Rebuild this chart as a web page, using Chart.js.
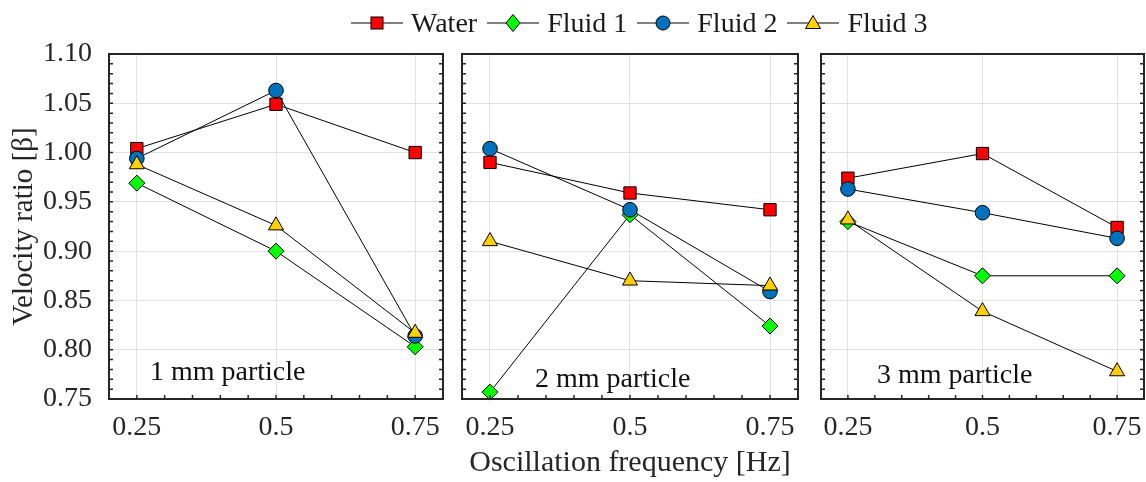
<!DOCTYPE html>
<html>
<head>
<meta charset="utf-8">
<title>Velocity ratio</title>
<script src="https://cdn.jsdelivr.net/npm/chart.js@4.4.1/dist/chart.umd.min.js"></script>
<style>
  body { margin: 0; background: #fff; }
  #wrap { position: relative; width: 1146px; height: 482px; font-family: 'Liberation Serif', 'Times New Roman', serif; }
  #wrap canvas { position: absolute; top: 0; }
  #legend { position: absolute; left: 351px; top: 0; height: 46px; display: flex; align-items: center;
            font-size: 28px; line-height: 28px; color: #1a1a1a; white-space: nowrap; }
  .item { display: flex; align-items: center; margin-right: 10px; }
  .item svg { margin-right: 8px; }
</style>
</head>
<body>
<div id="wrap">
  <canvas id="c1" width="450" height="482" style="left:0px"></canvas>
  <canvas id="c2" width="360" height="482" style="left:450px"></canvas>
  <canvas id="c3" width="336" height="482" style="left:810px"></canvas>
  <div id="legend"></div>
</div>
<script>
'use strict';
// x positions and tick labels (shared by all panels)
const xValues = [0.25, 0.5, 0.75];
const xTickLabels = ['0.25', '0.5', '0.75'];
const yTickValues = [0.75, 0.80, 0.85, 0.90, 0.95, 1.00, 1.05, 1.10];
const yTickLabels = ['0.75', '0.80', '0.85', '0.90', '0.95', '1.00', '1.05', '1.10'];
const seriesNames = ['Water', 'Fluid 1', 'Fluid 2', 'Fluid 3'];
const panelTitles = ['1 mm particle', '2 mm particle', '3 mm particle'];

// 1 mm particle
const water1 = [1.004, 1.049, 1.000];
const fluidOne1 = [0.969, 0.900, 0.803];
const fluidTwo1 = [0.994, 1.063, 0.814];
const fluidThree1 = [0.988, 0.926, 0.817];
// 2 mm particle
const water2 = [0.990, 0.959, 0.942];
const fluidOne2 = [0.757, 0.937, 0.824];
const fluidTwo2 = [1.004, 0.942, 0.859];
const fluidThree2 = [0.910, 0.870, 0.865];
// 3 mm particle
const water3 = [0.974, 0.999, 0.924];
const fluidOne3 = [0.930, 0.875, 0.875];
const fluidTwo3 = [0.963, 0.939, 0.913];
const fluidThree3 = [0.932, 0.839, 0.778];

const FONT = "'Liberation Serif', 'Times New Roman', serif";
const AXIS_COLOR = '#262626';
const GRID_COLOR = '#e2e2e2';

// marker look per series
const markers = [
    {style: 'rect', radius: 8.7, fill: '#ff0000'},
    {style: 'rectRot', radius: 8, fill: '#00ff00'},
    {style: 'circle', radius: 7.3, fill: '#0072bd'},
    {style: 'triangle', radius: 8.7, fill: '#ffd000'}
];

// Box, inward minor ticks and the panel caption
const framePlugin = {
    id: 'frame',
    afterDraw(chart, args, opts) {
        const ctx = chart.ctx;
        const a = chart.chartArea;
        const xs = chart.scales.x, ys = chart.scales.y;
        ctx.save();
        ctx.strokeStyle = AXIS_COLOR;
        ctx.lineWidth = 1.5;
        // y minor ticks every 0.01
        for (let i = 75; i <= 110; i++) {
            const py = ys.getPixelForValue(i / 100);
            ctx.beginPath();
            ctx.moveTo(a.left, py); ctx.lineTo(a.left + 4, py);
            ctx.moveTo(a.right, py); ctx.lineTo(a.right - 4, py);
            ctx.stroke();
        }
        // x minor ticks every 0.05
        for (let i = 4; i <= 16; i++) {
            const px = xs.getPixelForValue(i * 0.05);
            ctx.beginPath();
            ctx.moveTo(px, a.bottom); ctx.lineTo(px, a.bottom - 4);
            ctx.stroke();
        }
        ctx.lineWidth = 2;
        ctx.strokeRect(a.left, a.top, a.right - a.left, a.bottom - a.top);

        // caption
        ctx.fillStyle = '#111';
        ctx.font = '28px ' + FONT;
        ctx.textBaseline = 'alphabetic';
        ctx.textAlign = 'left';
        ctx.fillText(opts.text, a.left + opts.dx, a.bottom - opts.dy);
        ctx.restore();
    }
};

function makePanel(canvasId, seriesValues, cfg) {
    const datasets = seriesValues.map((vals, i) => ({
        label: seriesNames[i],
        data: xValues.map((x, j) => ({x: x, y: vals[j]})),
        borderColor: '#000',
        borderWidth: 1,
        pointStyle: markers[i].style,
        pointRadius: markers[i].radius,
        pointBackgroundColor: markers[i].fill,
        pointBorderColor: '#000',
        pointBorderWidth: 1,
        order: 4 - i, // later series drawn on top
        clip: false
    }));

    return new Chart(document.getElementById(canvasId), {
        type: 'line',
        data: {datasets: datasets},
        options: {
            responsive: false,
            animation: false,
            devicePixelRatio: 1,
            layout: {autoPadding: false, padding: {left: 0, top: 54, right: cfg.padRight, bottom: 0}},
            plugins: {
                legend: {display: false},
                tooltip: {enabled: false},
                frame: {text: cfg.caption, dx: cfg.capDx, dy: cfg.capDy}
            },
            scales: {
                x: {
                    type: 'linear',
                    min: 0.2,
                    max: 0.8,
                    afterBuildTicks: s => { s.ticks = xValues.map(v => ({value: v})); },
                    afterFit: s => {
                        s.height = 83;
                        s.paddingLeft = 0;
                        s.paddingRight = 0;
                    },
                    // invisible outward tick marks give the label gap
                    grid: {color: GRID_COLOR, drawTicks: true, tickLength: 12, tickColor: 'rgba(0,0,0,0)'},
                    border: {display: false},
                    ticks: {
                        padding: 0,
                        color: AXIS_COLOR,
                        font: {family: FONT, size: 28},
                        maxRotation: 0,
                        callback: (v, i) => xTickLabels[i]
                    },
                    title: {
                        display: cfg.xTitle,
                        text: 'Oscillation frequency [Hz]',
                        color: AXIS_COLOR,
                        font: {family: FONT, size: 30},
                        padding: {top: 0, bottom: 1}
                    }
                },
                y: {
                    type: 'linear',
                    min: 0.75,
                    max: 1.10,
                    afterBuildTicks: s => { s.ticks = yTickValues.map(v => ({value: v})); },
                    afterFit: s => { s.width = cfg.yWidth; },
                    grid: {color: GRID_COLOR, drawTicks: false},
                    border: {display: false},
                    ticks: {
                        display: cfg.yLabels,
                        padding: 17,
                        color: AXIS_COLOR,
                        font: {family: FONT, size: 28},
                        callback: (v, i) => yTickLabels[i]
                    },
                    title: {
                        display: cfg.yLabels,
                        text: 'Velocity ratio [β]',
                        color: AXIS_COLOR,
                        font: {family: FONT, size: 29},
                        padding: {top: 7, bottom: 0}
                    }
                }
            }
        },
        plugins: [framePlugin]
    });
}

function buildLegend() {
    const shapes = [
        '<rect x="20" y="4" width="12" height="12" fill="#ff0000" stroke="#000" stroke-width="1"/>',
        '<polygon points="26,1.5 33,10 26,18.5 19,10" fill="#00ff00" stroke="#000" stroke-width="1"/>',
        '<circle cx="26" cy="10" r="7" fill="#0072bd" stroke="#000" stroke-width="1"/>',
        '<polygon points="26,2.5 33.5,15.5 18.5,15.5" fill="#ffd000" stroke="#000" stroke-width="1"/>'
    ];
    const legend = document.getElementById('legend');
    legend.innerHTML = seriesNames.map((name, i) =>
        `<div class="item"><svg width="52" height="20">` +
        `<line x1="0" y1="10" x2="52" y2="10" stroke="#000" stroke-width="1"/>${shapes[i]}</svg>` +
        `<span>${name}</span></div>`).join('');
}

makePanel('c1', [water1, fluidOne1, fluidTwo1, fluidThree1],
    {padRight: 7, yWidth: 109, yLabels: true, xTitle: false, caption: panelTitles[0], capDx: 41, capDy: 19});
makePanel('c2', [water2, fluidOne2, fluidTwo2, fluidThree2],
    {padRight: 12, yWidth: 12, yLabels: false, xTitle: true, caption: panelTitles[1], capDx: 73, capDy: 12});
makePanel('c3', [water3, fluidOne3, fluidTwo3, fluidThree3],
    {padRight: 2, yWidth: 11, yLabels: false, xTitle: false, caption: panelTitles[2], capDx: 56, capDy: 16});
buildLegend();
</script>
</body>
</html>
